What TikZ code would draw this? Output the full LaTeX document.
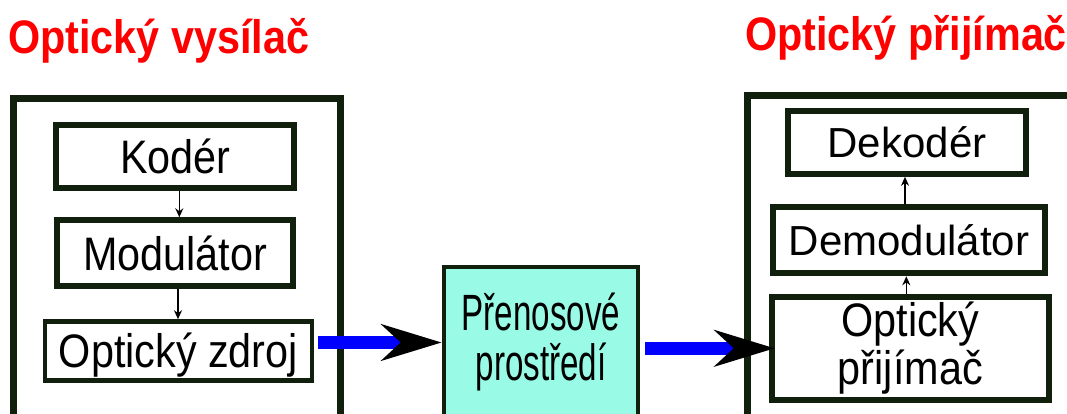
\documentclass[tikz,border=0pt]{standalone}
\usepackage{fontspec}
\usepackage{tikz}
\usetikzlibrary{arrows.meta,calc}
\newfontfamily\diafont[FakeStretch=0.88]{Liberation Sans}
\newfontfamily\uzkyfont[FakeStretch=0.65]{Liberation Sans}
\newfontfamily\plnyfont{Liberation Sans}
\definecolor{ramec}{RGB}{16,32,12}
\definecolor{tyrkys}{RGB}{153,250,230}
\definecolor{paprsek}{RGB}{0,0,255}

\begin{document}
\begin{tikzpicture}[x=1pt,y=1pt,
  titul/.style={text=red,font=\diafont\bfseries\fontsize{47}{50}\selectfont,inner sep=0pt},
  obal/.style={draw=ramec,line width=7pt},
  blok/.style={draw=ramec,line width=6pt,fill=white,inner sep=0pt,align=center,
    font=\diafont\fontsize{47}{48}\selectfont},
  radek/.style={blok,text height=34pt,text depth=0pt},
  sipka/.style={-{Stealth[length=9pt,width=8pt]},line width=1.6pt,black},
  paprsek/.style={-{Stealth[black,length=60pt,width=36pt,inset=19pt]},line width=13pt,draw=paprsek}]
\useasboundingbox (0,0) rectangle (1067,414);
% nadpisy
\node[titul,anchor=base west] (tvys) at (8,360) {Optický vysílač};
\node[titul,anchor=base west] (tpri) at (745,363) {Optický přijímač};
% vnejsi ramy
\draw[obal] (13.5,315.5) rectangle (340.5,-20);
\draw[obal] (747,318.5) rectangle (1100,-20);
% vysilac
\node[radek,minimum width=238pt,minimum height=63pt] (kod) at (175.3,257.8) {Kodér};
\node[radek,minimum width=236pt,minimum height=66pt] (mod) at (175,160.7) {Modulátor};
\node[radek,line width=4.5pt,minimum width=267pt,minimum height=59pt] (zdr) at (178.4,63) {Optický zdroj};
\draw[sipka] ([xshift=4pt]kod.south) -- ([xshift=4pt]kod.south |- mod.north);
\draw[sipka] ([xshift=3pt]mod.south) -- ([xshift=3pt]mod.south |- zdr.north);
% prenosove prostredi
\node[blok,line width=4.5pt,fill=tyrkys,minimum width=194pt,minimum height=151pt,
  font=\uzkyfont\fontsize{51}{50}\selectfont] (pren) at (541,71.5) {Přenosové\\prostředí};
% prijimac
\node[radek,minimum width=238pt,minimum height=63pt,font=\plnyfont\fontsize{42}{44}\selectfont,
  text height=30pt] (dek) at (907,271.7) {Dekodér};
\node[radek,minimum width=272pt,minimum height=66pt,font=\plnyfont\fontsize{42}{44}\selectfont,
  text height=30pt] (dem) at (909,173.7) {Demodulátor};
\node[blok,minimum width=277pt,minimum height=103pt] (prij) at (910.3,65.7) {Optický\\přijímač};
\draw[sipka] ([xshift=-2pt]dek.south |- dem.north) -- ([xshift=-2pt]dek.south);
\draw[sipka] ([xshift=-4pt]prij.north) -- ([xshift=-4pt]prij.north |- dem.south);
% opticky paprsek
\draw[paprsek,shorten <=4pt] (zdr.east |- pren.west) -- (pren.west);
\draw[paprsek,shorten <=5pt] (pren.east |- prij.west) -- ([xshift=6pt]prij.west);
\end{tikzpicture}
\end{document}
